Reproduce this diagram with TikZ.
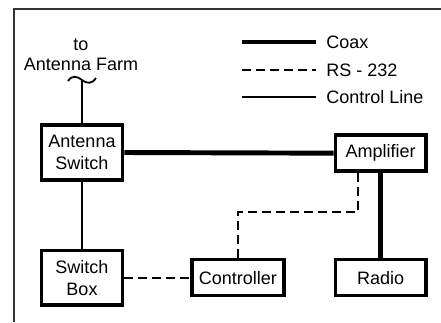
\documentclass[tikz,border=0pt]{standalone}
\usepackage{fontspec}
\setmainfont{Liberation Sans}
\usetikzlibrary{positioning}
\tikzstyle{unit} = [rectangle, draw=black, line width=2.6pt, fill=white, align=center,
    inner sep=1pt, minimum width=68pt, minimum height=27pt, font=\fontsize{13.5}{16.5}\selectfont]
\tikzstyle{coax} = [line width=3.7pt]
\tikzstyle{rs} = [line width=1.35pt, dash pattern=on 6.5pt off 4pt]
\tikzstyle{ctl} = [line width=1.35pt]
\tikzstyle{lbl} = [align=center, inner sep=0pt, font=\fontsize{13.5}{15}\selectfont]

\begin{document}
\begin{tikzpicture}[x=0.75pt, y=-0.75pt, node distance=50pt and 36pt]
  \useasboundingbox (0,0) rectangle (441,322);
  \draw[line width=1.6pt, black!80] (14,322) -- (14,9) -- (441,9);

  \node (antsw)  [unit, minimum width=61pt, minimum height=41pt] at (82,152.5) {Antenna\\Switch};
  \node (swbox)  [unit, minimum width=61pt, minimum height=41pt, below=50.25pt of antsw] {Switch\\Box};
  \node (ctrl)   [unit, minimum width=68.75pt, right=49.5pt of swbox] {Controller};
  \node (radio)  [unit, right=36pt of ctrl] {Radio};
  \node (amp)    [unit, above=63.75pt of radio] {Amplifier};
  \node (farm)   [lbl] at (81,55) {to\\Antenna Farm};
  \coordinate (tilde) at (82,80);

  \coordinate (k1) at (242,42);
  \coordinate (k2) at (242,70);
  \coordinate (k3) at (242,97);
  \node (coaxlbl) [lbl, anchor=west] at (326,42) {Coax};
  \node (rslbl)   [lbl, anchor=west] at (326,70) {RS - 232};
  \node (ctllbl)  [lbl, anchor=west] at (326,97) {Control Line};

  \draw[coax] (k1) -- ([xshift=-7.5pt]coaxlbl.west);
  \draw[rs]   (k2) -- ([xshift=-7.5pt]rslbl.west);
  \draw[ctl]  (k3) -- ([xshift=-7.5pt]ctllbl.west);

  \draw[ctl] (antsw.north) -- (tilde);
  \draw[ctl] (68,81) .. controls (72,75) and (77,76) .. (82,80) .. controls (87,84) and (92,84) .. (96,78);
  \draw[ctl] (antsw) -- (swbox);
  \draw[coax] (antsw.east) -- (amp.west);
  \draw[coax] (amp) -- (radio);
  \draw[rs]  (swbox) -- (ctrl);
  \draw[rs]  ([xshift=-17.25pt]amp.south) -- ++(0,39) -| (ctrl.north);
\end{tikzpicture}
\end{document}
